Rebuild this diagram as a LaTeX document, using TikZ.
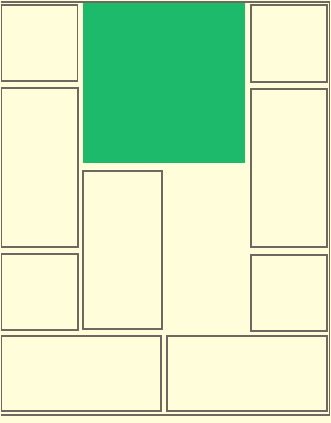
\documentclass[tikz,border=0pt]{standalone}
\definecolor{paper}{HTML}{FFFDDA}
\definecolor{panelgreen}{HTML}{1DBA6C}
\definecolor{edge}{HTML}{6E6860}
\tikzset{
  panel/.style={draw=edge, line width=1.1pt, fill=paper},
}
\begin{document}
\begin{tikzpicture}[x=1pt,y=-1pt]
\useasboundingbox (0,0) rectangle (331,423);
\fill[paper] (0,0) rectangle (331,423);
% outer frame
\draw[edge, line width=1.1pt] (0.5,2) -- (329.5,2) -- (329.5,415) -- (0.5,415);
% green panel
\fill[panelgreen] (83,2.5) rectangle (245,163);
% left column
\draw[panel] (1.5,5) rectangle (77.5,81);
\draw[panel] (1.5,88) rectangle (78,247);
\draw[panel] (1.5,254) rectangle (78,330);
% middle
\draw[panel] (83,171) rectangle (162,329);
% right column
\draw[panel] (251,5) rectangle (327,82);
\draw[panel] (251,89) rectangle (327,247);
\draw[panel] (251,255) rectangle (327,331);
% bottom row
\draw[panel] (1.5,336) rectangle (161,411);
\draw[panel] (167,336) rectangle (327,411);
\end{tikzpicture}
\end{document}
